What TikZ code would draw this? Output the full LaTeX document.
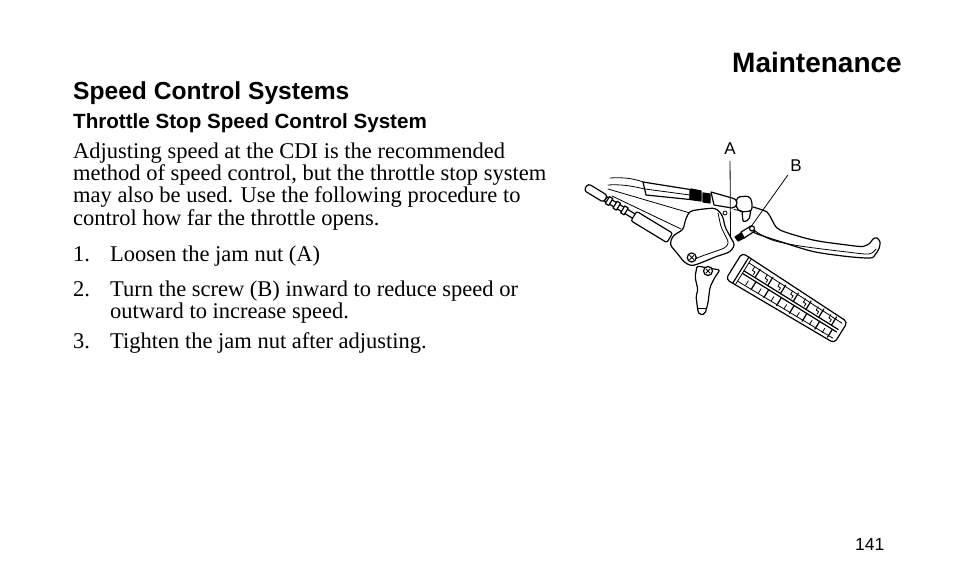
\documentclass[tikz,border=0pt]{standalone}
\usepackage{fontspec}
\usetikzlibrary{calc}
\setmainfont{Liberation Serif}
\newfontfamily\headfont{Liberation Sans}
\begin{document}
\begin{tikzpicture}[x=1pt,y=-1pt,
    part/.style={line width=1.2pt, line join=round, line cap=round},
    thin part/.style={line width=0.8pt, line join=round, line cap=round},
    body/.style={font=\fontsize{22.5}{22.3}\selectfont, inner sep=0pt, anchor=base west},
    lbl/.style={font=\headfont\fontsize{17}{17}\selectfont, inner sep=0pt, anchor=base}]
    \useasboundingbox (0,0) rectangle (954,588);
    % page texts
    \node[font=\headfont\bfseries\fontsize{28}{28}\selectfont, inner sep=0pt, anchor=base east] (title) at (902,72.3) {Maintenance};
    \node[font=\headfont\bfseries\fontsize{24.6}{24.6}\selectfont, inner sep=0pt, anchor=base west] (section) at (73,100) {Speed Control Systems};
    \node[font=\headfont\bfseries\fontsize{20.6}{20.6}\selectfont, inner sep=0pt, anchor=base west] (subsection) at (73,129) {Throttle Stop Speed Control System};
    % multi-line nodes sit on the baseline of their last line
    \node[body, align=left] (intro) at (73,225.2) {Adjusting speed at the CDI is the recommended\\
        method of speed control, but the throttle stop system\\
        may also be used. Use the following procedure to\\
        control how far the throttle opens.};
    \node[body] (num1) at (73,261.7) {1.};
    \node[body] (step1) at (110,261.7) {Loosen the jam nut (A)};
    \node[body] (num2) at (73,296.7) {2.};
    \node[body, align=left] (step2) at (110,318.6) {Turn the screw (B) inward to reduce speed or\\outward to increase speed.};
    \node[body] (num3) at (73,348.3) {3.};
    \node[body] (step3) at (110,348.3) {Tighten the jam nut after adjusting.};
    \node[font=\headfont\fontsize{17.5}{17.5}\selectfont, inner sep=0pt, anchor=base east] (page) at (884.5,550.7) {141};
    % grip
    \begin{scope}[shift={(734,266)}, rotate=-31.9]
        \draw[part, fill=white, rounded corners=4pt] (0,-15.5) -- (126,-12.5) -- (126,12.5) -- (0,15.5) -- cycle;
        \draw[part] (8,-15.3) -- (8,15.3);
        \draw[thin part] (11,-15.2) -- (11,15.2);
        \draw[thin part] (11,-10.5) -- (122,-8.5);
        \draw[part] (11,-1.2) -- (122,-1.2);
        \draw[part] (11,1.8) -- (122,1.8);
        \draw[thin part] (11,11) -- (122,9);
        \foreach \x in {24,39,...,114} {
            \draw[part] (\x,-11) -- (\x,-1.2);
            \draw[part] (\x+3,1.8) -- (\x+3,11);
            \draw[thin part] (\x-6,-10) -- (\x-6,-6) -- (\x-3,-6) -- (\x-3,-3);
            \draw[thin part] (\x-4,10) -- (\x-4,5);
        }
    \end{scope}
    % brake lever
    \draw[part, fill=white] plot[smooth, tension=0.5] coordinates {(753,207) (767,212) (772,220) (780,230) (813,240)
        (847,245) (863,246.5) (870,243) (873,239) (877,238) (880,242) (879,248.5) (875,255) (870,258)
        (847,256.5) (813,251.5) (780,241.5) (760,235) (748,230)};
    \draw[thin part] plot[smooth, tension=0.5] coordinates {(755,231) (772,240) (800,246) (847,252) (869,254) (876,249)};
    \draw[part, fill=white, rounded corners=2pt] (742,211) -- (751,210) -- (749,220) -- (743,222) -- cycle;
    \draw[part, fill=white, rounded corners=3pt] (737,197) -- (749,196) -- (752,201) -- (752,211) -- (740,212)
        -- (736,207) -- cycle;
    % throttle cables
    \draw[thin part] (610,178) .. controls (625,177) and (635,179) .. (643,182);
    \draw[thin part] (608,185) .. controls (625,184) and (635,187) .. (645,189);
    \draw[part, fill=white] (643,182) -- (690,189.5) -- (690,199.5) -- (646,195) -- cycle;
    \draw[thin part] (645,189) -- (690,195);
    \draw[part, fill=black] (691,189) -- (701,191) -- (701,201) -- (690,199.5) -- cycle;
    \draw[part, fill=black] (703,193) -- (710,194) -- (710,203) -- (703,202) -- cycle;
    \draw[part, fill=white] (711,192) -- (732,198) arc[start angle=-90, end angle=90, radius=5] -- (714,205) -- cycle;
    \draw[thin part] (734,209.5) -- (742,211);
    \draw[thin part] (608,189) -- (690,213);
    \draw[thin part] (612,196) -- (681,229);
    \begin{scope}[shift={(586,187)}, rotate=-31.3]
        \draw[part, fill=white, rounded corners=3pt] (0,-4) rectangle (23,4);
        \draw[part, fill=white] (23,-2.5) rectangle (58,2.5);
        \foreach \x in {25,34,43} {
            \draw[part, fill=white] (\x,-4) rectangle (\x+4,4);
        }
        \draw[part, fill=white, rounded corners=2pt] (56,-5.5) rectangle (98,5.5);
    \end{scope}
    % throttle housing
    \draw[part, fill=white, rounded corners=3pt] (672,237) -- (677,233) -- (683,230) -- (686,218) -- (690,211)
        -- (703,209) -- (715,208) -- (720,212) -- (723,217) -- (725,227) -- (731,238) -- (735,245)
        -- (730,252) -- (715,257) -- (703,262) -- (698,264) -- (691,266) -- (684,262) -- (677,253)
        -- (670,245) -- cycle;
    \draw[thin part, rounded corners=3pt] (718,213) -- (721,227) -- (729,243) -- (725,248) -- (702,256) -- (690,261);
    \draw[thin part] (725,213) circle[radius=2];
    % thumb lever
    \draw[part, fill=white, rounded corners=2pt] (697,266) -- (695,277) -- (698,290) -- (696,296) -- (698,312)
        -- (700,315) -- (705,314) -- (708,303) -- (710,287) -- (715,277) -- (720,270) -- cycle;
    \draw[thin part] (698,308) -- (706,308);
    % screws
    \foreach \name/\px/\py in {screwL/691.7/257.5, screwR/708/271} {
        \node[circle, draw, line width=1.2pt, fill=white, minimum size=9pt, inner sep=0pt] (\name) at (\px,\py) {};
        \draw[thin part] ($(\name)+(-2,-2)$) -- ($(\name)+(2,2)$);
        \draw[thin part] ($(\name)+(-2,2)$) -- ($(\name)+(2,-2)$);
    }
    % stop screw
    \draw[part, fill=white] (741,232) -- (751,226) -- (755,231) -- (744,238) -- cycle;
    \draw[part, fill=white] (752,228.5) circle[radius=2.5];
    \draw[part, fill=black] (735,237) -- (741,233) -- (744,238) -- (738,241) -- cycle;
    % labels and leaders
    \node[lbl] (labelA) at (730,155) {A};
    \node[lbl] (labelB) at (796,171.7) {B};
    \coordinate (nutA) at (730.5,238);
    \coordinate (screwB) at (751.5,226);
    \draw[thin part, shorten <=6pt] (labelA.south) -- (nutA);
    \draw[thin part, shorten <=4pt] (labelB.south west) -- (screwB);
\end{tikzpicture}
\end{document}
